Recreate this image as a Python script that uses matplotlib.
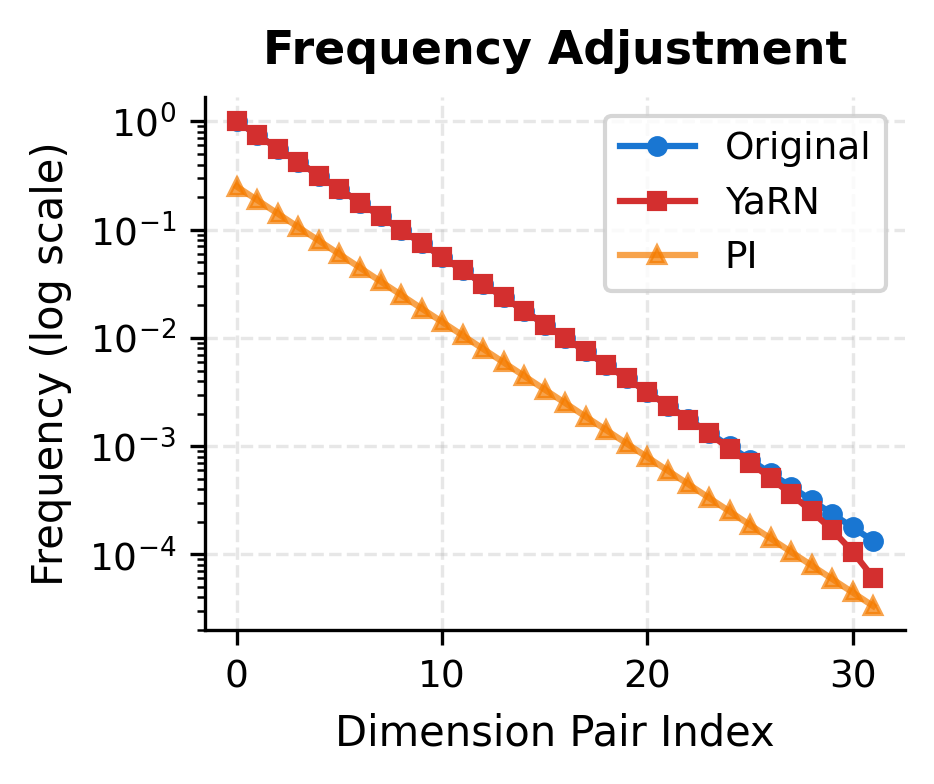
import numpy as np
import matplotlib.pyplot as plt

# Values
dims = list(range(32))

original = [1.0, 0.750, 0.562, 0.422, 0.316, 0.237, 0.178, 0.133,
            0.1, 0.075, 0.0562, 0.0422, 0.0316, 0.0237, 0.0178, 0.0133,
            0.01, 7.5e-3, 5.62e-3, 4.22e-3, 3.16e-3, 2.37e-3, 1.78e-3, 1.33e-3,
            1.0e-3, 7.5e-4, 5.62e-4, 4.22e-4, 3.16e-4, 2.37e-4, 1.78e-4, 1.33e-4]

yarn = [1.0, 0.750, 0.562, 0.422, 0.316, 0.237, 0.178, 0.133,
        0.1, 0.075, 0.0562, 0.0422, 0.0316, 0.0237, 0.0178, 0.0133,
        0.01, 7.5e-3, 5.62e-3, 4.22e-3, 3.16e-3, 2.37e-3, 1.76e-3, 1.32e-3,
        9.4e-4, 7.0e-4, 5.1e-4, 3.6e-4, 2.5e-4, 1.68e-4, 1.06e-4, 6.1e-5]

pi = [0.25, 0.1875, 0.1406, 0.1054, 0.0791, 0.0593, 0.0445, 0.0333,
      0.025, 0.0187, 0.01406, 0.01054, 0.00791, 0.00593, 0.00445, 0.00333,
      2.5e-3, 1.87e-3, 1.406e-3, 1.054e-3, 7.91e-4, 5.93e-4, 4.45e-4, 3.33e-4,
      2.5e-4, 1.87e-4, 1.406e-4, 1.054e-4, 7.91e-5, 5.93e-5, 4.45e-5, 3.33e-5]

fig = plt.figure(figsize=(934 / 300, 784 / 300), dpi=300)
ax = fig.add_axes([0.2195, 0.196, 0.7495, 0.68])

ax.plot(dims, original, marker='o', color='#1976D2', lw=1.5, ms=4, label='Original')
ax.plot(dims, yarn, marker='s', color='#D32F2F', lw=1.5, ms=4, label='YaRN')
ax.plot(dims, pi, marker='^', color='#F57C00', lw=1.5, ms=4, alpha=0.7, label='PI')

ax.set_yscale('log')
ax.set_xlabel('Dimension Pair Index', fontsize=10)
ax.set_ylabel('Frequency (log scale)', fontsize=10)
ax.set_title('Frequency Adjustment', fontsize=11, fontweight='bold', pad=8)
ax.tick_params(labelsize=9)
ax.grid(True, linestyle='--', alpha=0.3)
ax.spines['top'].set_visible(False)
ax.spines['right'].set_visible(False)
ax.legend(loc='upper right', fontsize=9)

fig.savefig('out.png', dpi=300)
